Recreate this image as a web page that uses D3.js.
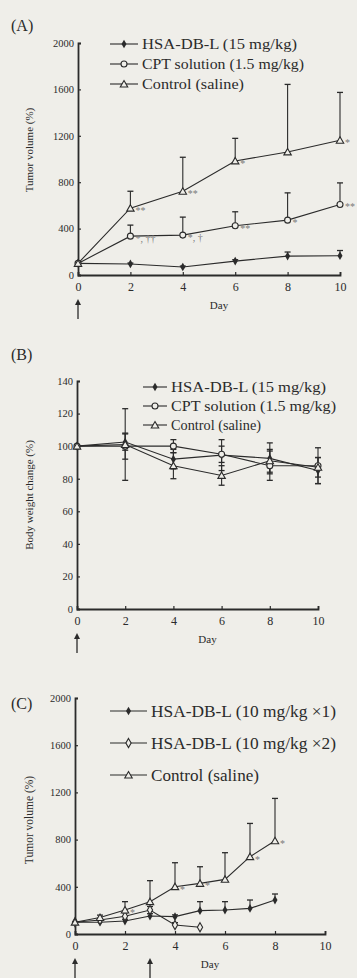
<!DOCTYPE html>
<html>
<head>
<meta charset="utf-8">
<script src="https://cdn.jsdelivr.net/npm/d3@7"></script>
<style>
  body { margin: 0; background: #efeee9; }
  svg { display: block; }
  text { font-family: "Liberation Serif", "DejaVu Serif", serif; fill: #2b2b2b; }
</style>
</head>
<body>
<div id="chart"></div>
<script>
// ---- panel A : tumor volume, single dose ----
const daysA = [0, 2, 4, 6, 8, 10];
const hsaA = [100, 95, 69, 120, 163, 166];
const hsaAErr = [0, 8, 8, 12, 35, 45];
const cptA = [100, 335, 344, 424, 473, 608];
const cptAErr = [0, 95, 155, 121, 235, 186];
const ctrlA = [100, 576, 722, 983, 1061, 1161];
const ctrlAErr = [0, 146, 293, 195, 582, 413];
const legendA = ["HSA-DB-L (15  mg/kg)", "CPT solution (1.5 mg/kg)", "Control (saline)"];
const marksA = [
  { s: 2, i: 1, t: "**" }, { s: 1, i: 1, t: "*, ††" },
  { s: 2, i: 2, t: "**" }, { s: 1, i: 2, t: "*, †" },
  { s: 2, i: 3, t: "*" }, { s: 1, i: 3, t: "**" },
  { s: 1, i: 4, t: "*" }, { s: 2, i: 5, t: "*" }, { s: 1, i: 5, t: "**" }
];

// ---- panel B : body weight change ----
const daysB = [0, 2, 4, 6, 8, 10];
const hsaB = [100, 102.5, 92, 94.5, 92.5, 85];
const hsaBErr = [0, 5, 6, 9.5, 9.5, 8];
const cptB = [100, 100, 100, 95, 88, 88];
const cptBErr = [0, 8, 4, 5, 9, 11];
const ctrlB = [100, 101, 88, 82, 91, 87];
const ctrlBErr = [0, 22, 8, 6, 7, 6];
const legendB = ["HSA-DB-L (15  mg/kg)", "CPT solution (1.5 mg/kg)", "Control (saline)"];

// ---- panel C : tumor volume, repeated dose ----
const daysC1 = [0, 1, 2, 3, 4, 5, 6, 7, 8];
const hsa1C = [100, 100, 110, 152, 147, 198, 203, 217, 288];
const hsa1CErr = [0, 0, 15, 20, 15, 76, 71, 71, 51];
const daysC2 = [0, 1, 2, 3, 4, 5];
const hsa2C = [100, 118, 150, 203, 76, 57];
const hsa2CErr = [0, 10, 30, 30, 20, 0];
const daysC3 = [0, 1, 2, 3, 4, 5, 6, 7, 8];
const ctrlC = [100, 140, 203, 274, 401, 429, 463, 655, 790];
const ctrlCErr = [0, 20, 71, 178, 203, 141, 226, 282, 359];
const legendC = ["HSA-DB-L (10 mg/kg \u00d71)", "HSA-DB-L (10 mg/kg \u00d72)", "Control (saline)"];
const marksC = [
  { s: 2, i: 2, t: "*" }, { s: 2, i: 4, t: "*" }, { s: 2, i: 5, t: "*" },
  { s: 2, i: 7, t: "*" }, { s: 2, i: 8, t: "*" }
];

const xTicks = [0, 2, 4, 6, 8, 10];
const volTicks = [0, 400, 800, 1200, 1600, 2000];
const bwTicks = [0, 20, 40, 60, 80, 100, 120, 140];

const ink = "#2b2b2b";
const paper = "#efeee9";
const svg = d3.select("#chart").append("svg")
  .attr("width", 357).attr("height", 978);

function marker(g, kind, x, y) {
  if (kind === "tri") {
    g.append("path").attr("d", d3.symbol(d3.symbolTriangle, 24)())
      .attr("transform", `translate(${x},${y + 0.8})`)
      .attr("fill", paper).attr("stroke", ink).attr("stroke-width", 1.1);
  } else if (kind === "fill") {
    g.append("path").attr("d", d3.symbol(d3.symbolDiamond, 22)())
      .attr("transform", `translate(${x},${y})`).attr("fill", ink);
  } else if (kind === "open") {
    g.append("circle").attr("cx", x).attr("cy", y).attr("r", 3)
      .attr("fill", paper).attr("stroke", ink).attr("stroke-width", 1.1);
  } else {
    g.append("path").attr("d", d3.symbol(d3.symbolDiamond, 24)())
      .attr("transform", `translate(${x},${y})`)
      .attr("fill", paper).attr("stroke", ink).attr("stroke-width", 1.1);
  }
}

function panel(p) {
  const g = svg.append("g");
  const x = d3.scaleLinear().domain([0, 10]).range(p.xr);
  const y = d3.scaleLinear().domain(p.yd).range(p.yr);

  g.append("text").attr("x", 11).attr("y", p.labelY).attr("font-size", 16).text(p.label);

  const ya = g.append("g").attr("transform", `translate(${p.xr[0]},0)`)
    .call(d3.axisRight(y).tickValues(p.yTicks).tickSize(3).tickFormat(d3.format("d")));
  ya.selectAll("text").attr("x", -4).attr("text-anchor", "end").attr("font-size", 10.5)
    .attr("font-family", "Liberation Serif");
  const xa = g.append("g").attr("transform", `translate(0,${p.yr[0]})`)
    .call(d3.axisTop(x).tickValues(xTicks).tickSize(3));
  xa.selectAll("text").attr("y", 16).attr("font-size", 12).attr("font-family", "Liberation Serif");
  g.selectAll(".domain").attr("stroke", ink).attr("stroke-width", 1.8);
  g.selectAll(".tick line").attr("stroke", ink).attr("stroke-width", 1.2);

  g.append("text").attr("transform", `translate(33,${p.ylabY}) rotate(-90)`)
    .attr("text-anchor", "middle").attr("font-size", p.ylabFs).text(p.ylab);
  g.append("text").attr("x", (p.xr[0] + p.xr[1]) / 2 + 10).attr("y", p.yr[0] + 34)
    .attr("text-anchor", "middle").attr("font-size", 11).text("Day");

  p.arrows.forEach(d => {
    const ax = x(d), y0 = p.yr[0] + 24;
    g.append("line").attr("x1", ax).attr("x2", ax).attr("y1", y0 + 3).attr("y2", y0 + 20)
      .attr("stroke", ink).attr("stroke-width", 1.3);
    g.append("path").attr("d", `M${ax - 3},${y0 + 6}L${ax},${y0}L${ax + 3},${y0 + 6}Z`).attr("fill", ink);
  });

  const line = d3.line().x(d => x(d[0])).y(d => y(d[1]));
  p.series.forEach(s => {
    const pts = s.days.map((d, i) => [d, s.v[i], s.e[i]]);
    pts.forEach(d => {
      if (!d[2]) return;
      const cx = x(d[0]);
      const top = y(d[1] + d[2]);
      const bot = p.both ? y(d[1] - d[2]) : y(d[1]);
      g.append("line").attr("x1", cx).attr("x2", cx).attr("y1", top).attr("y2", bot)
        .attr("stroke", ink).attr("stroke-width", 1.1);
      g.append("line").attr("x1", cx - 3).attr("x2", cx + 3).attr("y1", top).attr("y2", top)
        .attr("stroke", ink).attr("stroke-width", 1.3);
      if (p.both) g.append("line").attr("x1", cx - 3).attr("x2", cx + 3).attr("y1", bot).attr("y2", bot)
        .attr("stroke", ink).attr("stroke-width", 1.3);
    });
    g.append("path").datum(pts).attr("d", line).attr("fill", "none")
      .attr("stroke", ink).attr("stroke-width", 1.1);
  });
  p.series.forEach(s => s.days.forEach((d, i) => marker(g, s.kind, x(d), y(s.v[i]))));

  (p.marks || []).forEach(m => {
    const s = p.series[m.s];
    g.append("text").attr("x", x(s.days[m.i]) + 5).attr("y", y(s.v[m.i]) + 6)
      .attr("font-size", 10).style("fill", "#7a7a7a").text(m.t);
  });

  p.legend.forEach((t, i) => {
    const ly = p.leg.y + i * p.leg.dy;
    g.append("line").attr("x1", p.leg.x).attr("x2", p.leg.x + p.leg.w).attr("y1", ly).attr("y2", ly)
      .attr("stroke", ink).attr("stroke-width", 1.1);
    marker(g, p.series[i].kind, p.leg.x + p.leg.w / 2, ly);
    g.append("text").attr("x", p.leg.x + p.leg.w + 4).attr("y", ly + p.leg.fs * 0.35)
      .attr("font-size", p.leg.fs)
      .attr("textLength", p.leg.tl[i]).attr("lengthAdjust", "spacingAndGlyphs").text(t);
  });
}

panel({
  label: "(A)", labelY: 31, xr: [78, 340], yd: [0, 2000], yr: [275, 43], yTicks: volTicks,
  ylab: "Tumor volume (%)", ylabY: 150, ylabFs: 11, arrows: [0], both: false,
  series: [
    { days: daysA, v: hsaA, e: hsaAErr, kind: "fill" },
    { days: daysA, v: cptA, e: cptAErr, kind: "open" },
    { days: daysA, v: ctrlA, e: ctrlAErr, kind: "tri" }
  ],
  marks: marksA, legend: legendA,
  leg: { x: 110, w: 28, y: 44, dy: 20, fs: 14, tl: [155, 162, 102] }
});

panel({
  label: "(B)", labelY: 360, xr: [77, 318], yd: [0, 140], yr: [609, 381], yTicks: bwTicks,
  ylab: "Body weight change (%)", ylabY: 495, ylabFs: 11, arrows: [0], both: true,
  series: [
    { days: daysB, v: hsaB, e: hsaBErr, kind: "fill" },
    { days: daysB, v: cptB, e: cptBErr, kind: "open" },
    { days: daysB, v: ctrlB, e: ctrlBErr, kind: "tri" }
  ],
  legend: legendB,
  leg: { x: 143, w: 24, y: 387, dy: 19, fs: 14, tl: [155, 165, 90] }
});

panel({
  label: "(C)", labelY: 709, xr: [75, 325], yd: [0, 2000], yr: [934, 698], yTicks: volTicks,
  ylab: "Tumor volume (%)", ylabY: 820, ylabFs: 11.5, arrows: [0, 3], both: false,
  series: [
    { days: daysC1, v: hsa1C, e: hsa1CErr, kind: "fill" },
    { days: daysC2, v: hsa2C, e: hsa2CErr, kind: "openD" },
    { days: daysC3, v: ctrlC, e: ctrlCErr, kind: "tri" }
  ],
  marks: marksC, legend: legendC,
  leg: { x: 110, w: 37, y: 711, dy: 32, fs: 17, tl: [185, 185, 108] }
});
</script>
</body>
</html>
